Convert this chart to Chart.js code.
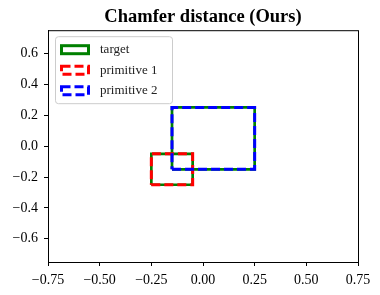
<!DOCTYPE html>
<html><head><meta charset="utf-8">
<script src="https://cdn.jsdelivr.net/npm/chart.js@4"></script>
<style>html,body{margin:0;padding:0;background:#fff}#wrap{width:380px;height:295px}</style>
</head><body><div id="wrap"><canvas id="c"></canvas></div>
<script>
// Rectangles as [x0, y0, x1, y1]
const targetRects = [[-0.25, -0.25, -0.05, -0.05], [-0.15, -0.15, 0.25, 0.25]];
const primitive1Rect = [-0.25, -0.25, -0.05, -0.05];
const primitive2Rect = [-0.15, -0.15, 0.25, 0.25];
const seriesNames = ['target', 'primitive 1', 'primitive 2'];
const xTicks = [-0.75, -0.5, -0.25, 0, 0.25, 0.5, 0.75];
const yTicks = [-0.6, -0.4, -0.2, 0, 0.2, 0.4, 0.6];
const axisMin = -0.75, axisMax = 0.75;

const FONT = "'Liberation Serif', 'DejaVu Serif', serif";

function outline(r) {
  return [{x:r[0],y:r[1]},{x:r[2],y:r[1]},{x:r[2],y:r[3]},{x:r[0],y:r[3]},{x:r[0],y:r[1]}];
}
const datasets = [];
targetRects.forEach((r, i) => datasets.push({
  label: seriesNames[0], data: outline(r), showLine: true, borderColor: 'green',
  borderWidth: 2.7, pointRadius: 0, fill: false, legendKey: i === 0 ? 0 : -1, order: 10
}));
datasets.push({label: seriesNames[1], data: outline(primitive1Rect), showLine: true, borderColor: 'red',
  borderWidth: 3, borderDash: [9, 4], pointRadius: 0, fill: false, legendKey: 1, order: 5});
datasets.push({label: seriesNames[2], data: outline(primitive2Rect), showLine: true, borderColor: 'blue',
  borderWidth: 3, borderDash: [9, 4], pointRadius: 0, fill: false, legendKey: 2, order: 1});

const fmt = v => (v < -1e-9 ? '\u2212' : '') + Math.abs(v).toFixed(2);
const fmtY = v => (v < -1e-9 ? '\u2212' : '') + Math.abs(v).toFixed(1);

const framePlugin = {
  id: 'frame',
  afterDatasetsDraw(chart) {
    const {ctx, chartArea: a} = chart;
    ctx.save();
    ctx.strokeStyle = '#000'; ctx.lineWidth = 1;
    ctx.strokeRect(a.left + 0.5, a.top + 0.5, a.right - a.left, a.bottom - a.top);
    // legend
    const lx = a.left + 7, ly = a.top + 6, lw = 117, lh = 67;
    ctx.beginPath();
    ctx.roundRect(lx + 0.5, ly + 0.5, lw, lh, 3);
    ctx.fillStyle = 'rgba(255,255,255,0.8)'; ctx.fill();
    ctx.strokeStyle = '#ccc'; ctx.lineWidth = 1; ctx.stroke();
    const items = chart.data.datasets.filter(d => d.legendKey >= 0).sort((p, q) => p.legendKey - q.legendKey);
    items.forEach((d, i) => {
      const cy = ly + 13.5 + i * 20.5;
      ctx.setLineDash(d.borderDash || []);
      ctx.strokeStyle = d.borderColor; ctx.lineWidth = 3;
      ctx.strokeRect(lx + 6.5, cy - 4, 27, 8);
      ctx.setLineDash([]);
      ctx.fillStyle = '#222';
      ctx.font = "13px " + FONT;
      ctx.textBaseline = 'middle'; ctx.textAlign = 'left';
      ctx.fillText(d.label, lx + 45, cy);
    });
    ctx.restore();
  }
};

new Chart(document.getElementById('c'), {
  type: 'scatter',
  data: {datasets},
  options: {
    responsive: true, maintainAspectRatio: false, animation: false,
    layout: {padding: {left: 0, right: 22, top: 0, bottom: 0}},
    plugins: {
      legend: {display: false}, tooltip: {enabled: false},
      title: {display: true, fullSize: false, text: 'Chamfer distance (Ours)', color: '#000',
        font: {family: FONT, size: 18.5, weight: 'bold'}, padding: {top: 6, bottom: 2}}
    },
    scales: {
      x: {
        type: 'linear', min: axisMin, max: axisMax,
        afterBuildTicks: s => { s.ticks = xTicks.map(v => ({value: v})); },
        afterFit: s => { s.height = 33; },
        grid: {drawOnChartArea: false, drawTicks: true, tickLength: 4, color: '#000'},
        border: {display: true, color: '#000'},
        ticks: {color: '#000', font: {family: FONT, size: 14}, padding: 6, callback: v => fmt(v), maxRotation: 0, autoSkip: false}
      },
      y: {
        type: 'linear', min: axisMin, max: axisMax,
        afterBuildTicks: s => { s.ticks = yTicks.map(v => ({value: v})); },
        afterFit: s => { s.width = 48; },
        grid: {drawOnChartArea: false, drawTicks: true, tickLength: 4, color: '#000'},
        border: {display: true, color: '#000'},
        ticks: {color: '#000', font: {family: FONT, size: 14}, padding: 6, callback: v => fmtY(v), autoSkip: false}
      }
    }
  },
  plugins: [framePlugin]
});
</script></body></html>
